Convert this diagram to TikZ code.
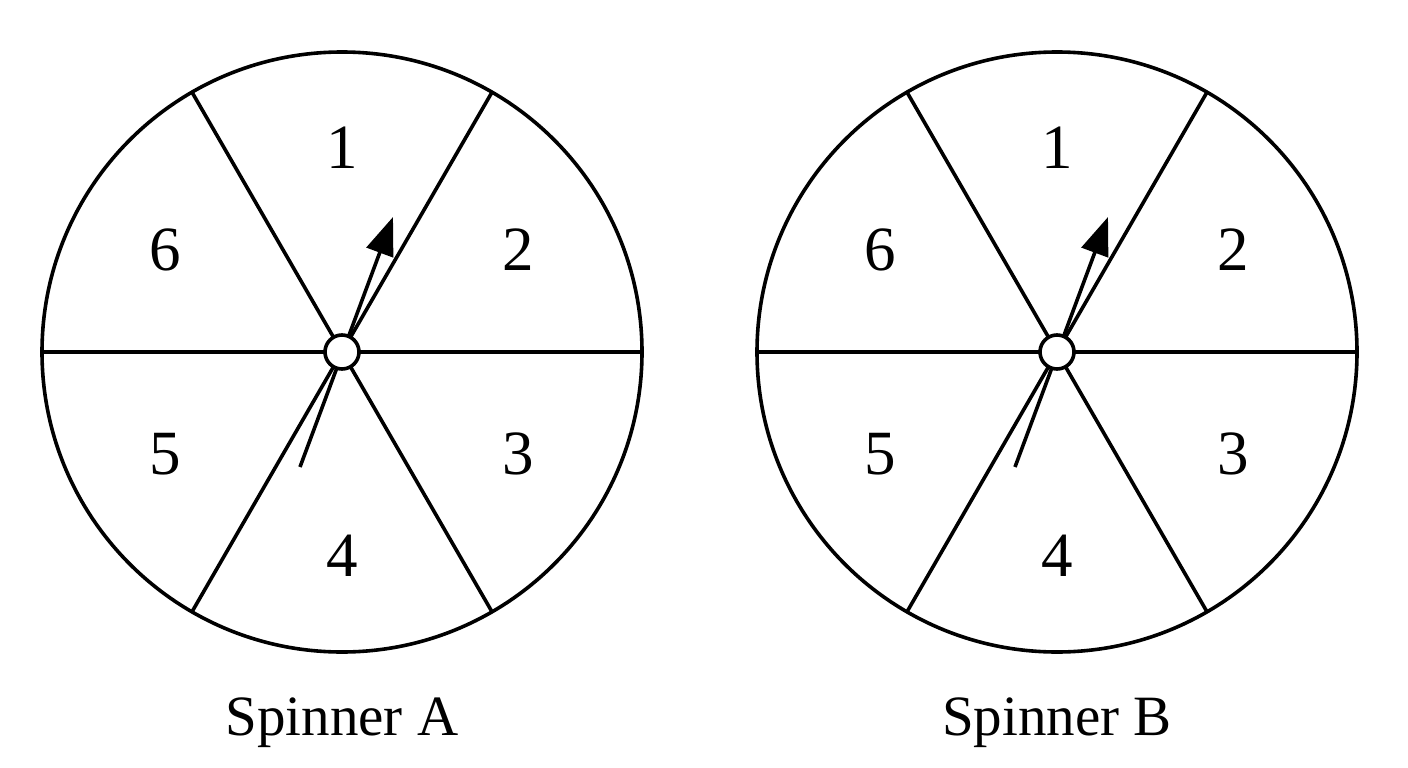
\documentclass[tikz,border=0pt]{standalone}
\usepackage{fontspec}
\setmainfont{Liberation Serif}
\usetikzlibrary{arrows.meta}
\begin{document}
\begin{tikzpicture}[x=1pt,y=-1pt,
  wheel/.style={line width=3.6pt},
  hub/.style={circle,draw,line width=3.6pt,fill=white,minimum size=34pt,inner sep=0pt},
  num/.style={font=\fontsize{63}{63}\selectfont,inner sep=0pt},
  captext/.style={font=\fontsize{57}{57}\selectfont,inner sep=0pt,anchor=base},
  pointer/.style={line width=3.6pt,-{Triangle[length=38pt,width=28pt]}}]
\useasboundingbox (0,0) rectangle (1408,768);
\foreach \cx/\lab/\nm in {342/A/a,1057/B/b}{
  \begin{scope}[shift={(\cx,352)}]
    \draw[wheel] (0,0) circle[radius=300];
    \draw[wheel] (0:300) -- (180:300);
    \draw[wheel] (60:300) -- (240:300);
    \draw[wheel] (120:300) -- (300:300);
    \foreach \n/\ang in {1/-90,2/-30,3/30,4/90,5/150,6/-150}{
      \node[num] (\nm\n) at (\ang:204) {\n};
    }
    \coordinate (\nm tail) at (-42,115);
    \coordinate (\nm tip) at (51,-135);
    \draw[pointer] (\nm tail) -- (\nm tip);
    \node[hub] (\nm hub) at (0,0) {};
    \node[captext] (\nm lbl) at (0,383) {Spinner \lab};
  \end{scope}
}
\end{tikzpicture}
\end{document}
